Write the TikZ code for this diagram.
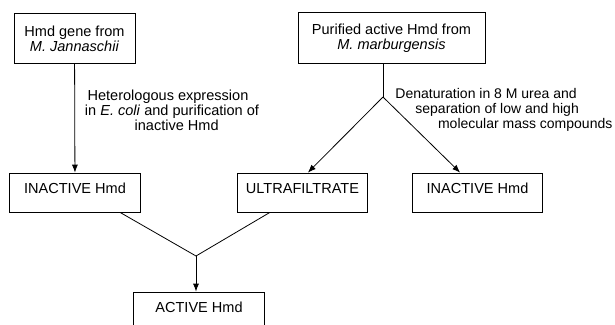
\documentclass[tikz,border=0pt]{standalone}
\usepackage{fontspec}
\setmainfont{Liberation Sans}
\usetikzlibrary{arrows.meta}

\begin{document}
\begin{tikzpicture}[x=0.75pt,y=-0.75pt,line width=0.6pt,
    font=\fontsize{10.9}{11.3}\selectfont,
    >={Latex[length=6pt,width=4.5pt]},
    stage/.style={draw, rectangle, align=center, minimum width=98pt,
      inner ysep=7.6pt, text height=8pt, text depth=6pt},
    source/.style={draw, rectangle, align=center, minimum height=38pt},
    remark/.style={inner sep=0pt}]
   \useasboundingbox (0,0) rectangle (615,325);
   \clip (0,0) rectangle (615,325);
   \node[source, minimum width=90.75pt] (gene) at (74.5,38.5) {Hmd gene from\\\textit{M. Jannaschii}};
   \node[source, minimum width=140.25pt] (purified) at (391.5,38) {Purified active Hmd from\\\textit{M. marburgensis}};
   \node[stage] (inactiveL) at (75,192.5) {INACTIVE Hmd};
   \node[stage] (ultra) at (302.5,192.5) {ULTRAFILTRATE};
   \node[stage] (inactiveR) at (477.5,192.5) {INACTIVE Hmd};
   \node[stage] (active) at (199,311.5) {ACTIVE Hmd};
   \coordinate (split) at (383,97);
   \coordinate (join) at (196,256);
   \node[remark, align=center] (expression) at (172,110) {Heterologous expression\hspace*{6pt}\\in \textit{E. coli} and purification of\\\hspace*{7pt}inactive Hmd};
   \node[remark, align=left, anchor=west, font=\fontsize{10.5}{11.3}\selectfont] (denaturation) at (395,110) {Denaturation in 8 M urea and\\\hspace*{15pt}separation of low and high\\\hspace*{32pt}molecular mass compounds};
   \draw[->] (gene) -- (inactiveL);
   \draw (purified.south -| split) -- (split);
   \draw[->] (split) -- ([xshift=4pt]ultra.north);
   \draw[->] (split) -- ([xshift=-13pt]inactiveR.north);
   \draw ([xshift=33.75pt]inactiveL.south) -- (join);
   \draw ([xshift=-24.4pt]ultra.south) -- (join);
   \draw[->] (join) -- (join |- active.north);
\end{tikzpicture}
\end{document}
